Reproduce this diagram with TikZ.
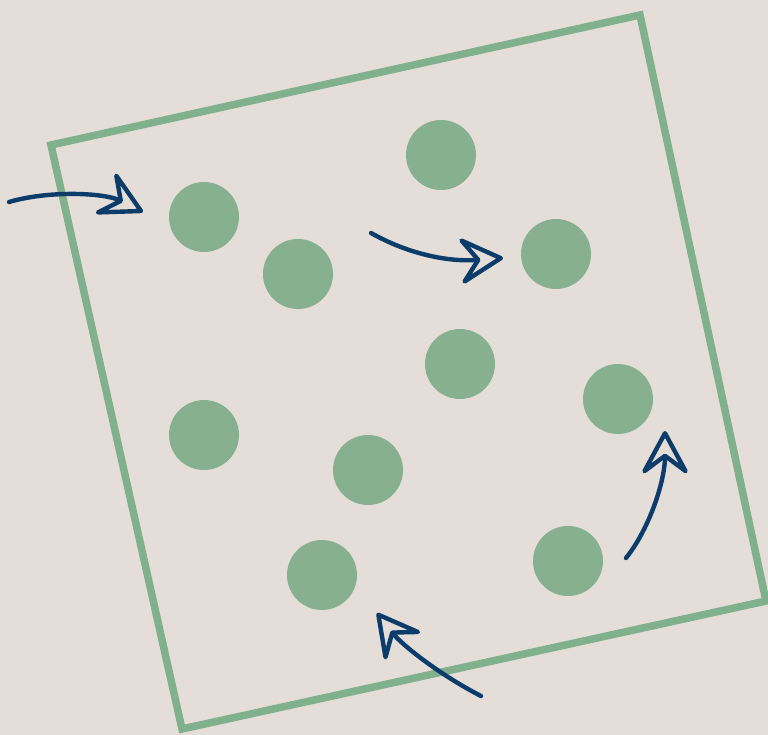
\documentclass[tikz,border=0pt]{standalone}
\usepackage{xcolor}
\usepackage{tikz}
\usetikzlibrary{calc,arrows.meta}

\definecolor{paper}{HTML}{E5DDD8}
\definecolor{sage}{HTML}{80B18C}
\definecolor{dotgreen}{HTML}{86B08F}
\definecolor{inkblue}{HTML}{0C3C69}

\begin{document}
\begin{tikzpicture}[x=1pt,y=-1pt,
  dot/.style={circle,fill=dotgreen,minimum size=70pt,inner sep=0pt},
  frame/.style={draw=sage,line width=7.5pt,line join=miter},
  push/.style={draw=inkblue,line width=4.4pt,line cap=round,line join=round,
    -{Stealth[open,round,length=50pt,width=54pt,inset=20pt]}}]
\fill[paper] (0,0) rectangle (768,735);
\useasboundingbox (0,0) rectangle (768,735);

\draw[frame] (51,145) -- (640,15) -- (766,601) -- (182,729) -- cycle;

\node[dot] (p1) at (204,217) {};
\node[dot] (p2) at (298,274) {};
\node[dot] (p3) at (441,155) {};
\node[dot] (p4) at (556,254) {};
\node[dot] (p5) at (460,364) {};
\node[dot] (p6) at (618,399) {};
\node[dot] (p7) at (204,435) {};
\node[dot] (p8) at (368,470) {};
\node[dot] (p9) at (322,575) {};
\node[dot] (p10) at (568,561) {};

\coordinate (inA) at (9,202);
\coordinate (tipA) at (143,212);
\coordinate (inB) at (371,233);
\coordinate (tipB) at (503,258);
\coordinate (inC) at (626,558);
\coordinate (tipC) at (665,431);
\coordinate (inD) at (481,696);
\coordinate (tipD) at (377,613);

\draw[push] (inA) .. controls (50,190) and (105,193) .. (tipA);
\draw[push] (inB) .. controls (410,255) and (450,262) .. (tipB);
\draw[push] (inC) .. controls (650,528) and (665,480) .. (tipC);
\draw[push] (inD) .. controls (440,675) and (402,645) .. (tipD);
\end{tikzpicture}
\end{document}
